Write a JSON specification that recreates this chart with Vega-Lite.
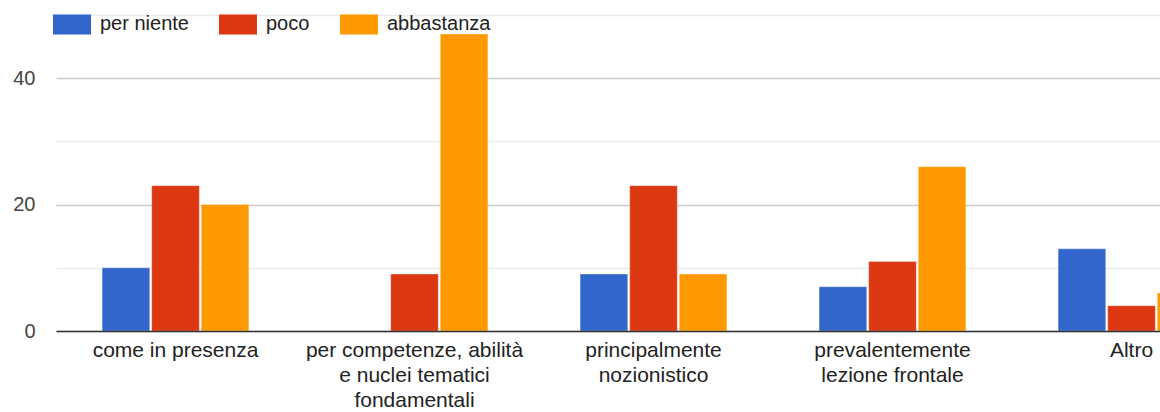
{
  "$schema": "https://vega.github.io/schema/vega-lite/v6.json",
  "autosize": "none",
  "padding": {"left": 56, "top": 15, "right": 0, "bottom": 81},
  "width": 1104,
  "height": 316,
  "background": "white",
  "config": {
    "view": {"stroke": null},
    "font": "Liberation Sans, Arial, sans-serif"
  },
  "data": {
    "values": [
      {"categoria": "come in presenza", "risposta": "per niente", "valore": 10},
      {"categoria": "come in presenza", "risposta": "poco", "valore": 23},
      {"categoria": "come in presenza", "risposta": "abbastanza", "valore": 20},
      {"categoria": "per competenze, abilità e nuclei tematici fondamentali", "risposta": "per niente", "valore": 0},
      {"categoria": "per competenze, abilità e nuclei tematici fondamentali", "risposta": "poco", "valore": 9},
      {"categoria": "per competenze, abilità e nuclei tematici fondamentali", "risposta": "abbastanza", "valore": 47},
      {"categoria": "principalmente nozionistico", "risposta": "per niente", "valore": 9},
      {"categoria": "principalmente nozionistico", "risposta": "poco", "valore": 23},
      {"categoria": "principalmente nozionistico", "risposta": "abbastanza", "valore": 9},
      {"categoria": "prevalentemente lezione frontale", "risposta": "per niente", "valore": 7},
      {"categoria": "prevalentemente lezione frontale", "risposta": "poco", "valore": 11},
      {"categoria": "prevalentemente lezione frontale", "risposta": "abbastanza", "valore": 26},
      {"categoria": "Altro", "risposta": "per niente", "valore": 13},
      {"categoria": "Altro", "risposta": "poco", "valore": 4},
      {"categoria": "Altro", "risposta": "abbastanza", "valore": 6}
    ]
  },
  "mark": {"type": "bar", "stroke": "white", "strokeWidth": 0.5, "strokeOpacity": 0.6},
  "encoding": {
    "x": {
      "field": "categoria",
      "type": "nominal",
      "sort": null,
      "scale": {"range": [0, 1195], "paddingInner": 0.386, "paddingOuter": 0.193},
      "axis": {
        "title": null,
        "labelAngle": 0,
        "labelFontSize": 21,
        "labelColor": "#222222",
        "labelLimit": 400,
        "labelLineHeight": 25,
        "labelPadding": 8,
        "labelOverlap": false,
        "labelBaseline": "top",
        "ticks": false,
        "tickSize": 0,
        "domainColor": "#333333",
        "domainWidth": 1.5,
        "grid": false,
        "zindex": 1,
        "labelExpr": "datum.label == 'per competenze, abilità e nuclei tematici fondamentali' ? ['per competenze, abilità', 'e nuclei tematici', 'fondamentali'] : datum.label == 'principalmente nozionistico' ? ['principalmente', 'nozionistico'] : datum.label == 'prevalentemente lezione frontale' ? ['prevalentemente', 'lezione frontale'] : datum.label"
      }
    },
    "xOffset": {
      "field": "risposta",
      "type": "nominal",
      "sort": ["per niente", "poco", "abbastanza"],
      "scale": {"paddingInner": 0.04, "paddingOuter": 0.0}
    },
    "y": {
      "field": "valore",
      "type": "quantitative",
      "scale": {"domain": [0, 50], "nice": false},
      "axis": {
        "title": null,
        "values": [0, 10, 20, 30, 40, 50],
        "labelExpr": "datum.value % 20 == 0 ? datum.label : ''",
        "labelFontSize": 20,
        "labelColor": "#444444",
        "labelPadding": 21,
        "ticks": false,
        "tickSize": 0,
        "domain": false,
        "gridColor": {"condition": {"test": "datum.value % 20 == 0", "value": "#cccccc"}, "value": "#ebebeb"},
        "gridWidth": 1.5
      }
    },
    "color": {
      "field": "risposta",
      "type": "nominal",
      "sort": ["per niente", "poco", "abbastanza"],
      "scale": {"domain": ["per niente", "poco", "abbastanza"], "range": ["#3366cc", "#dc3912", "#ff9900"]},
      "legend": {
        "title": null,
        "orient": "none",
        "direction": "horizontal",
        "legendX": -3,
        "legendY": -10,
        "symbolType": "M-1,-0.53H1V0.53H-1Z",
        "symbolSize": 1444,
        "symbolStrokeWidth": 0,
        "symbolOpacity": 1,
        "labelFontSize": 20,
        "labelColor": "#222222",
        "labelOffset": 9,
        "columnPadding": 30,
        "padding": 0
      }
    }
  }
}
